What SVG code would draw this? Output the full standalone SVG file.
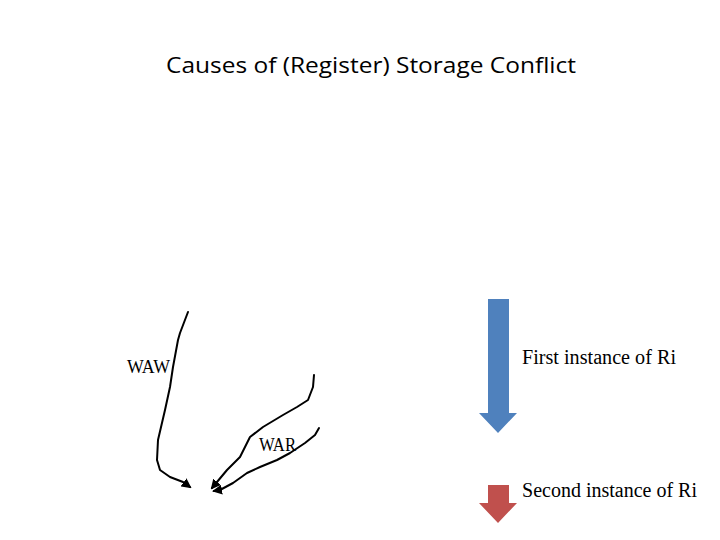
<svg xmlns="http://www.w3.org/2000/svg" width="720" height="540" viewBox="0 0 720 540">
<defs>
<style>
.serif{font-family:"Liberation Serif","Times New Roman",serif;fill:#000}
.curve{fill:none;stroke:#000;stroke-width:2;stroke-linejoin:round;stroke-linecap:round}
</style>
<marker id="ah" viewBox="0 0 10 10" refX="8" refY="5" markerWidth="5" markerHeight="5" orient="auto" markerUnits="strokeWidth">
<path d="M0,0 L10,5 L0,10 Z" fill="#000"/>
</marker>
</defs>
<rect width="720" height="540" fill="#fff"/>
<text x="371" y="73" text-anchor="middle" font-family="'Open Sans','Liberation Sans',sans-serif" font-size="22" fill="#000" textLength="410" lengthAdjust="spacingAndGlyphs">Causes of (Register) Storage Conflict</text>
<g id="first-arrow">
<polygon points="488,299 509,299 509,413 517,413 498,433 479,413 488,413" fill="#4F81BD"/>
<text class="serif" x="522" y="364" font-size="20" textLength="154" lengthAdjust="spacingAndGlyphs">First instance of Ri</text>
</g>
<g id="second-arrow">
<polygon points="488,485 509,485 509,503 517,503 498,523 479,503 488,503" fill="#C0504D"/>
<text class="serif" x="522" y="497" font-size="20" textLength="175" lengthAdjust="spacingAndGlyphs">Second instance of Ri</text>
</g>
<g id="waw">
<text class="serif" x="127" y="373" font-size="18" textLength="43" lengthAdjust="spacingAndGlyphs">WAW</text>
</g>
<g id="war">
<text class="serif" x="259" y="451" font-size="18" textLength="37" lengthAdjust="spacingAndGlyphs">WAR</text>
</g>
<g id="connectors">
<path class="curve" marker-end="url(#ah)" d="M188,312 L180,333 L178,340 L173,367 L170,387 L165,410 L158,440 L157,460 L160,470 L170,477 L183,482 L190,487"/>
<path class="curve" marker-end="url(#ah)" d="M314,375 L313,387 L308,400 L297,407 L283,415 L263,427 L250,437 L240,457 L227,470 L217,482 L212,488"/>
<path class="curve" marker-end="url(#ah)" d="M319,428 L315,435 L305,443 L290,453 L277,460 L260,467 L247,473 L233,483 L220,490 L214,491"/>
</g>
</svg>
